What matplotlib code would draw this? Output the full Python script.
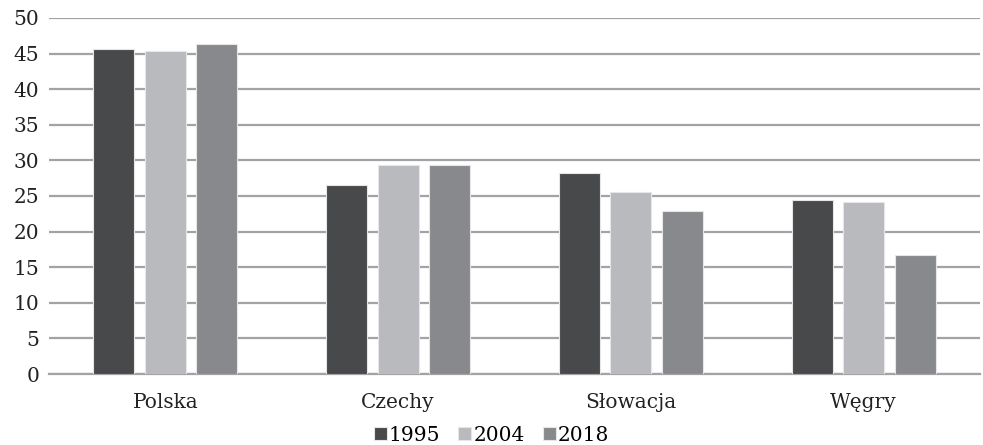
import numpy as np
import matplotlib
matplotlib.use('Agg')
import matplotlib.pyplot as plt

# dane
kraje = ['Polska', 'Czechy', 'Słowacja', 'Węgry']
lata = ['1995', '2004', '2018']
v1995 = [45.6, 26.5, 28.2, 24.5]
v2004 = [45.3, 29.4, 25.5, 24.2]
v2018 = [46.3, 29.4, 22.9, 16.7]
kolory = ['#48494b', '#b9babd', '#88898c']

plt.rcParams['font.family'] = 'DejaVu Serif'
plt.rcParams['font.size'] = 14.5

fig = plt.figure(figsize=(9.83, 4.45), dpi=100)
ax = fig.add_axes([49/983, 71/445, 931/983, 356/445])

x = np.arange(len(kraje))
szer = 0.176
krok = 0.221
for i, (wart, kol, rok) in enumerate(zip([v1995, v2004, v2018], kolory, lata)):
    ax.bar(x + (i - 1) * krok, wart, width=szer, color=kol, edgecolor='#e6e6e6',
           linewidth=0.8, label=rok, zorder=3)

ax.set_ylim(0, 50)
ax.set_xlim(-0.5, 3.5)
ax.set_yticks(range(0, 51, 5))
ax.set_xticks(x)
ax.set_xticklabels(kraje)
ax.grid(axis='y', color='#a3a3a5', linewidth=1.6, zorder=0)
for s in ['top', 'right', 'left']:
    ax.spines[s].set_visible(False)
ax.spines['bottom'].set_color('#a3a3a5')
ax.spines['bottom'].set_linewidth(1.6)
ax.tick_params(axis='both', length=0, colors='#222222')
ax.tick_params(axis='x', pad=14)
ax.tick_params(axis='y', pad=7)

fig.legend(loc='lower center', bbox_to_anchor=(0.5, -0.04), ncol=3, frameon=False,
           handlelength=0.65, handleheight=0.65, handletextpad=0.1, columnspacing=0.9)

plt.savefig('out.png', dpi=100)
